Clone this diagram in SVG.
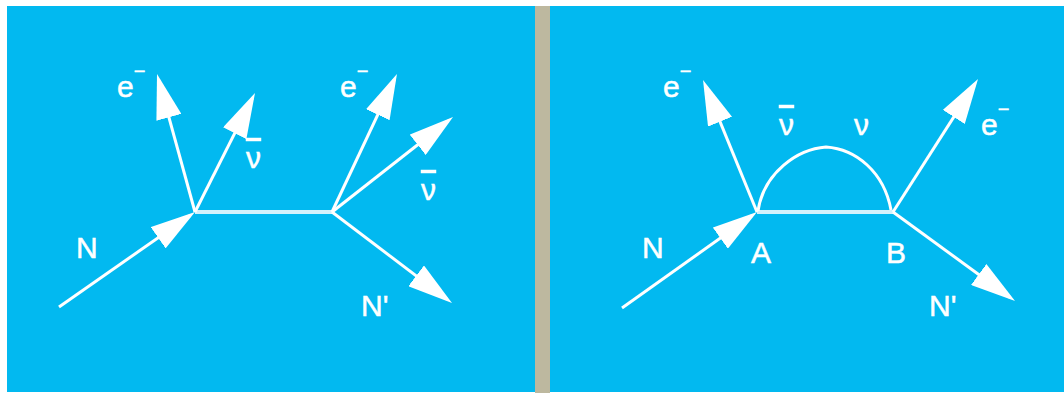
<svg xmlns="http://www.w3.org/2000/svg" width="1064" height="393" viewBox="0 0 1064 393">
<style>
.panel{fill:#02b9f0}
.ln{stroke:#ffffff;stroke-width:3;fill:none;marker-end:url(#ah)}
.pl{stroke:#ffffff;stroke-width:3;fill:none}
.hz{stroke:#d3f1fc;stroke-width:4;fill:none}
.lb{font-family:"Liberation Sans",Arial,sans-serif;font-size:30px;fill:#ffffff;stroke:#ffffff;stroke-width:0.5}
.sup{font-size:20px}
.bar{text-decoration:overline}
</style>
<defs>
<marker id="ah" viewBox="0 0 45 26" markerWidth="45" markerHeight="26" refX="39" refY="13" orient="auto" markerUnits="userSpaceOnUse">
<path d="M0,0 L45,13 L0,26 z" fill="#ffffff"/>
</marker>
</defs>
<rect x="0" y="0" width="1064" height="393" fill="#ffffff"/>
<rect class="panel" x="7" y="6" width="528" height="386"/>
<rect x="535" y="6" width="15" height="387" fill="#bdb89f"/>
<rect class="panel" x="550" y="6" width="514" height="386"/>

<g id="connectors">
<!-- left panel -->
<line class="hz" x1="195" y1="212" x2="332" y2="212"/>
<line class="ln" x1="59" y1="307" x2="190.1" y2="215.4"/>
<line class="ln" x1="195" y1="212" x2="158.6" y2="79.8"/>
<line class="ln" x1="195" y1="212" x2="252.3" y2="98.4"/>
<line class="ln" x1="332" y1="212" x2="394.4" y2="79.4"/>
<line class="ln" x1="332" y1="212" x2="448.3" y2="120.7"/>
<line class="ln" x1="332" y1="212" x2="447.2" y2="299.4"/>
<!-- right panel -->
<line class="hz" x1="757" y1="212" x2="893" y2="212"/>
<path class="pl" d="M758,211 C764,172 798,149 826,147 C856,149 884,172 891,210"/>
<line class="ln" x1="622" y1="308" x2="752.1" y2="215.5"/>
<line class="ln" x1="757" y1="212" x2="705.3" y2="85.6"/>
<line class="ln" x1="893" y1="212" x2="974.8" y2="84.1"/>
<line class="ln" x1="893" y1="212" x2="1010.2" y2="297.5"/>
</g>

<g id="left-N"><text class="lb" x="76" y="258">N</text></g>
<g id="left-e1"><text class="lb" x="117" y="97">e<tspan class="sup" dy="-19">−</tspan></text></g>
<g id="left-nubar1"><text class="lb" x="246" y="168"><tspan class="bar">ν</tspan></text></g>
<g id="left-e2"><text class="lb" x="340" y="97">e<tspan class="sup" dy="-19">−</tspan></text></g>
<g id="left-nubar2"><text class="lb" x="421" y="200"><tspan class="bar">ν</tspan></text></g>
<g id="left-Nprime"><text class="lb" x="361" y="316">N'</text></g>

<g id="right-N"><text class="lb" x="642" y="258">N</text></g>
<g id="right-e1"><text class="lb" x="663" y="97">e<tspan class="sup" dy="-19">−</tspan></text></g>
<g id="right-nubar"><text class="lb" x="779" y="135"><tspan class="bar">ν</tspan></text></g>
<g id="right-nu"><text class="lb" x="854" y="135">ν</text></g>
<g id="right-e2"><text class="lb" x="981" y="135">e<tspan class="sup" dy="-19">−</tspan></text></g>
<g id="right-A"><text class="lb" x="751" y="263">A</text></g>
<g id="right-B"><text class="lb" x="886" y="263">B</text></g>
<g id="right-Nprime"><text class="lb" x="929" y="316">N'</text></g>
</svg>
